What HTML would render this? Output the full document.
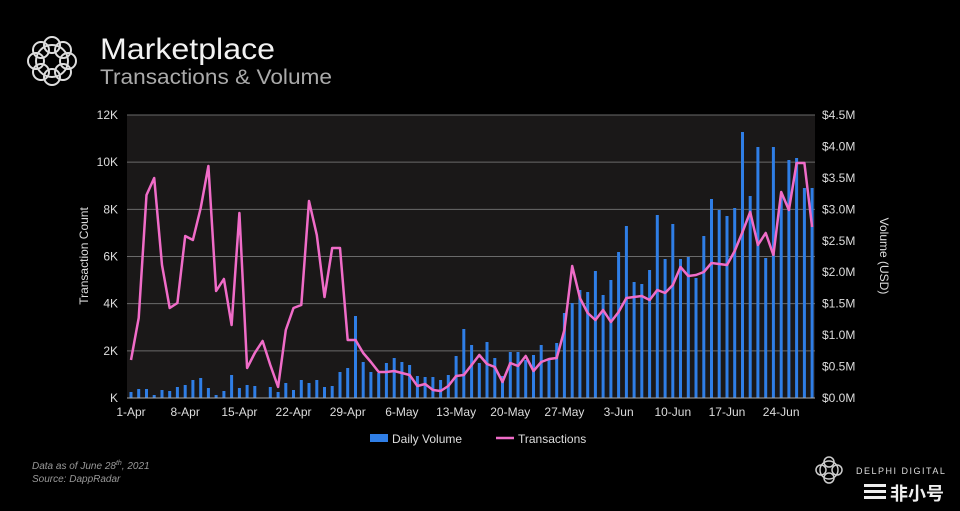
<!DOCTYPE html>
<html><head><meta charset="utf-8"><style>
html,body{margin:0;padding:0;background:#000;width:960px;height:511px;overflow:hidden;font-family:"Liberation Sans",sans-serif}
</style></head><body>
<svg id="s" width="960" height="511" viewBox="0 0 960 511" xmlns="http://www.w3.org/2000/svg" font-family="Liberation Sans, sans-serif">
<rect width="960" height="511" fill="#000"/>
<g fill="none" stroke="#ddd" stroke-width="2">
<circle cx="52" cy="61" r="16"/><circle cx="52" cy="45" r="8"/><circle cx="52" cy="77" r="8"/><circle cx="36" cy="61" r="8"/><circle cx="68" cy="61" r="8"/>
<circle cx="41" cy="50" r="8"/><circle cx="63" cy="50" r="8"/><circle cx="41" cy="72" r="8"/><circle cx="63" cy="72" r="8"/>
</g>
<text x="100" y="59" fill="#f2f2f2" font-size="30" textLength="175" lengthAdjust="spacingAndGlyphs">Marketplace</text>
<text x="100" y="84" fill="#aaa" font-size="21" textLength="232" lengthAdjust="spacingAndGlyphs">Transactions &amp; Volume</text>
<rect x="127" y="115" width="688" height="283" fill="#1a1818"/>
<g id="grid" stroke="#6a6a6a" stroke-width="1"></g>
<g id="bars" fill="#2f7ee6"></g>
<polyline id="line" fill="none" stroke="#f06cc8" stroke-width="2.5" stroke-linejoin="round"/>
<line x1="127" y1="398" x2="815" y2="398" stroke="#aaa"/>
<g id="lab" font-size="12" fill="#ddd"></g>
<text transform="translate(88,256) rotate(-90)" text-anchor="middle" font-size="12" fill="#ddd">Transaction Count</text>
<text transform="translate(880,256) rotate(90)" text-anchor="middle" font-size="12" fill="#ddd">Volume (USD)</text>
<rect x="370" y="434" width="18" height="8" fill="#2f7ee6"/>
<text x="392" y="443" font-size="12" fill="#ddd">Daily Volume</text>
<line x1="496" y1="438" x2="514" y2="438" stroke="#f06cc8" stroke-width="2.5"/>
<text x="518" y="443" font-size="12" fill="#ddd">Transactions</text>
<text x="32" y="469" font-size="10" fill="#999" font-style="italic">Data as of June 28<tspan font-size="7" dy="-4">th</tspan><tspan dy="4">, 2021</tspan></text>
<text x="32" y="482" font-size="10" fill="#999" font-style="italic">Source:  DappRadar</text>
<g fill="none" stroke="#ccc" stroke-width="1.5">
<circle cx="829" cy="470" r="9"/><circle cx="829" cy="462" r="5"/><circle cx="829" cy="478" r="5"/><circle cx="821" cy="470" r="5"/><circle cx="837" cy="470" r="5"/>
</g>
<text x="856" y="474" font-size="9" fill="#ddd" letter-spacing="1.5">DELPHI DIGITAL</text>
<g fill="#eee"><rect x="864" y="484" width="22" height="3"/><rect x="864" y="490" width="22" height="3"/><rect x="864" y="496" width="22" height="3"/></g>
<text x="890" y="500" font-size="18" fill="#eee" font-family="Liberation Sans, Noto Sans CJK SC, sans-serif" font-weight="bold">非小号</text>
</svg>
<script>
var NS="http://www.w3.org/2000/svg";
function el(p,t,a,txt){var e=document.createElementNS(NS,t);for(var k in a)e.setAttribute(k,a[k]);if(txt!=null)e.textContent=txt;document.getElementById(p).appendChild(e);return e;}
var L=["K","2K","4K","6K","8K","10K","12K"],R=["$0.0M","$0.5M","$1.0M","$1.5M","$2.0M","$2.5M","$3.0M","$3.5M","$4.0M","$4.5M"];
for(var i=0;i<7;i++){var y=398-i*47.17;if(i>0)el("grid","line",{x1:127,x2:815,y1:y,y2:y});el("lab","text",{x:118,y:y+4,"text-anchor":"end"},L[i]);}
for(var i=0;i<10;i++){var y=398-i*31.44;el("lab","text",{x:822,y:y+4},R[i]);}
var xl=["1-Apr","8-Apr","15-Apr","22-Apr","29-Apr","6-May","13-May","20-May","27-May","3-Jun","10-Jun","17-Jun","24-Jun"];
for(var i=0;i<13;i++){var x=131+7.74*7*i;el("lab","text",{x:x,y:416,"text-anchor":"middle"},xl[i]);}
var ln=[360,318,195,178,265,308,303,236,240,208,166,291,279,325,213,368,353,341,365,387,330,308,305,201,235,297,248,248,340,340,353,362,372,372,371,373,375,386,384,390,391,386,376,375,365,355,364,367,382,363,366,356,371,362,359,358,330,266,298,313,320,310,322,312,298,297,296,300,290,293,285,267,276,275,272,263,264,265,251,232,212,245,233,255,192,210,163,163,227];
var br=[392,389,389,395,390,391,387,385,380,378,388,395,391,375,388,385,386,398,387,392,383,390,380,383,380,387,386,372,368,316,362,372,373,363,358,362,365,376,377,377,380,375,356,329,345,363,342,358,376,352,352,360,355,345,359,343,313,303,290,292,271,295,280,252,226,282,284,270,215,259,224,259,257,278,236,199,210,216,208,132,196,147,258,147,195,160,158,188,188];
var pts=[];
for(var i=0;i<89;i++){var x=131+7.74*i;pts.push(x.toFixed(1)+","+ln[i]);el("bars","rect",{x:(x-1.5).toFixed(1),y:br[i],width:3,height:398-br[i]});}
document.getElementById("line").setAttribute("points",pts.join(" "));
</script>
</body></html>
